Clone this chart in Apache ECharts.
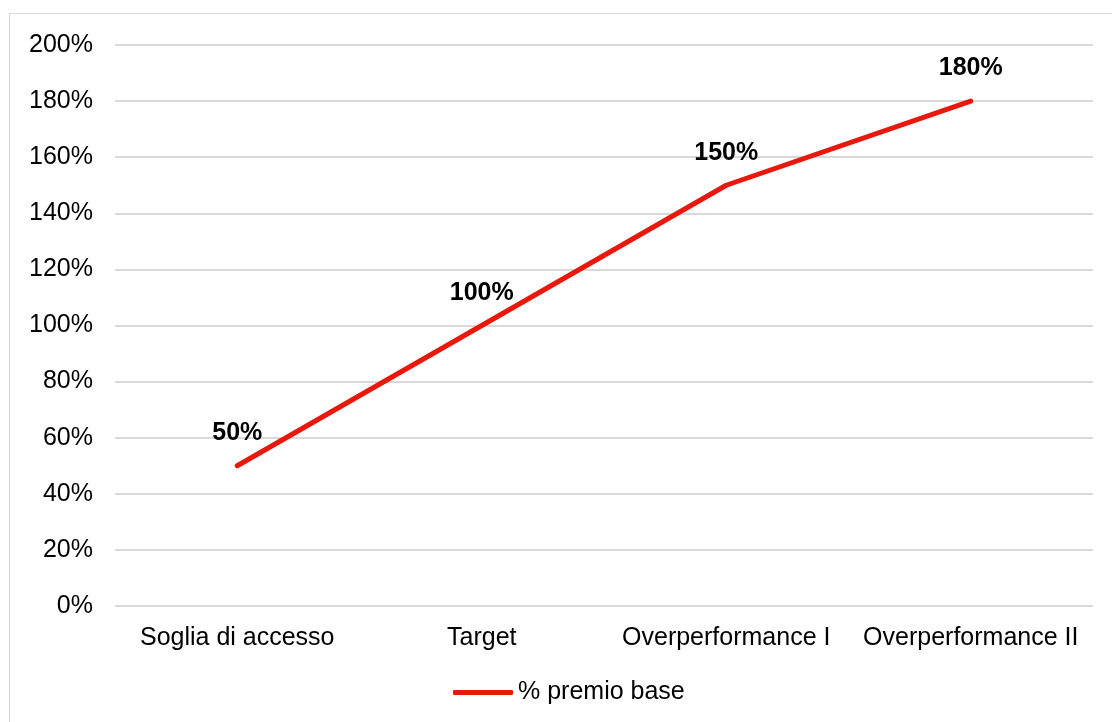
<!DOCTYPE html>
<html><head><meta charset="utf-8">
<script src="https://cdn.jsdelivr.net/npm/echarts@6/dist/echarts.min.js"></script>
<style>
html,body{margin:0;padding:0;background:#fff;}
#frame{position:absolute;left:9px;top:13px;width:1110px;height:720px;border:1px solid #d9d9d9;box-sizing:border-box;}
#c{position:absolute;left:0;top:0;width:1112px;height:722px;}
</style></head>
<body>
<div id="frame"></div>
<div id="c"></div>
<script>
const categories = ['Soglia di accesso', 'Target', 'Overperformance I', 'Overperformance II'];
const premioBase = [50, 100, 150, 180];
const seriesName = '% premio base';
const yTicks = [0, 20, 40, 60, 80, 100, 120, 140, 160, 180, 200];

const FONT = 'Liberation Sans, Arial, sans-serif';
const chart = echarts.init(document.getElementById('c'));
chart.setOption({
  animation: false,
  textStyle: { fontFamily: FONT },
  grid: { left: 115, right: 19, top: 45, bottom: 116, containLabel: false },
  legend: {
    bottom: 12, left: 448,
    data: [seriesName],
    itemWidth: 60, itemHeight: 5, itemGap: 4,
    icon: 'roundRect',
    textStyle: { fontSize: 25, color: '#000', fontFamily: FONT, padding: [0, 0, 0, 0] }
  },
  xAxis: {
    type: 'category', data: categories, boundaryGap: true,
    axisLine: { show: false }, axisTick: { show: false },
    axisLabel: { fontSize: 25, color: '#000', margin: 20, interval: 0, fontFamily: FONT }
  },
  yAxis: {
    type: 'value', min: yTicks[0], max: yTicks[yTicks.length - 1], interval: 20,
    axisLine: { show: false }, axisTick: { show: false },
    axisLabel: { fontSize: 25, color: '#000', margin: 22, formatter: v => v + '%', fontFamily: FONT },
    splitLine: { lineStyle: { color: '#d9d9d9', width: 2 } }
  },
  series: [{
    name: seriesName, type: 'line', data: premioBase,
    symbol: 'circle', symbolSize: 0, showSymbol: true,
    lineStyle: { color: '#e8180c', width: 5, cap: 'round', join: 'round' },
    itemStyle: { color: '#e8180c' },
    label: {
      show: true, position: 'top', distance: 20,
      formatter: p => p.value + '%',
      fontSize: 25, fontWeight: 'bold', color: '#000', fontFamily: FONT
    }
  }]
});
</script>
</body></html>
